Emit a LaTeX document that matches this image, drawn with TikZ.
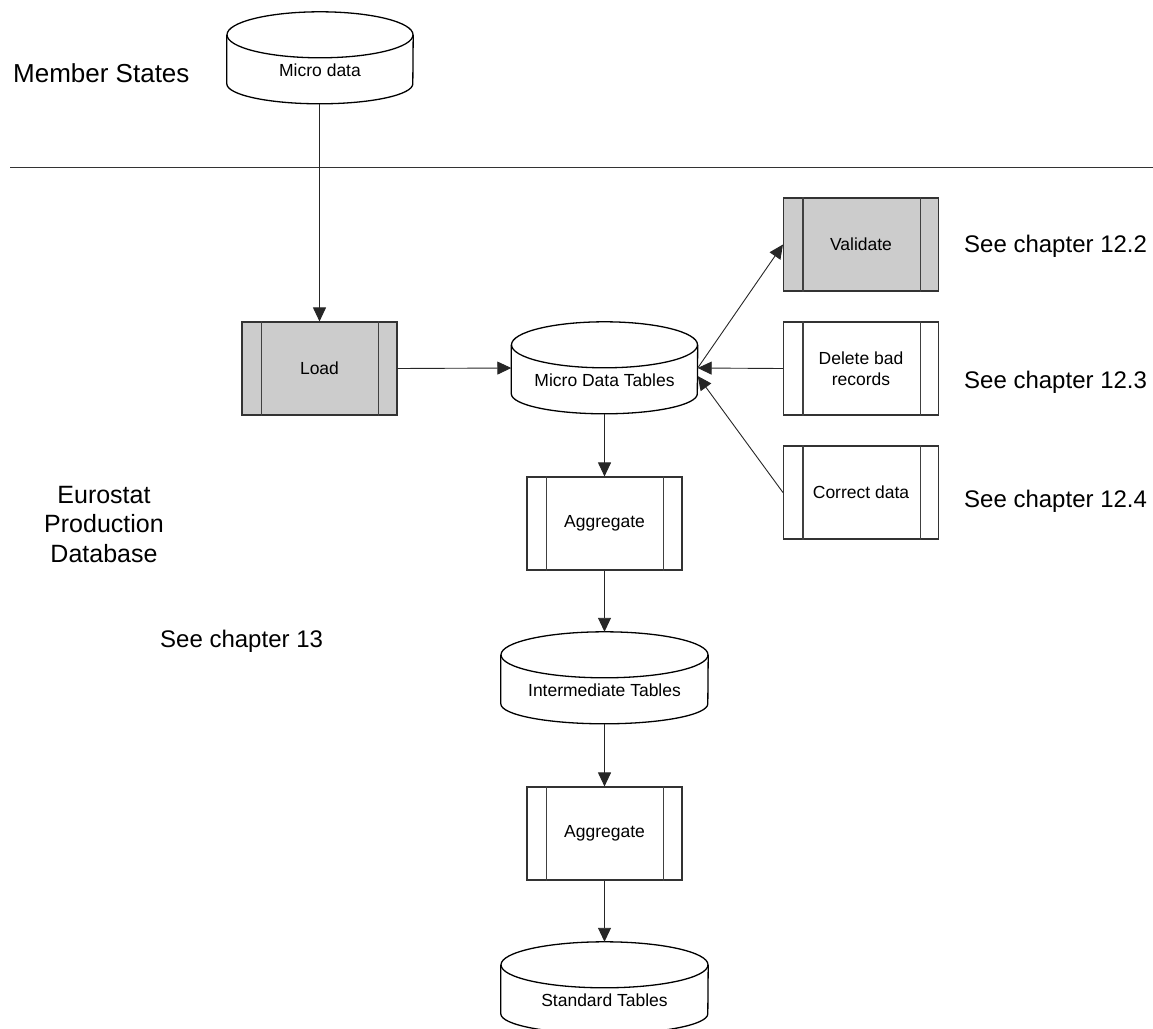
\documentclass[tikz,border=0pt]{standalone}
\usepackage{fontspec}
\setmainfont{Liberation Sans}
\usetikzlibrary{arrows.meta,calc}
\tikzset{
  cylnode/.style={draw=none, inner xsep=0pt, inner ysep=0pt, text height=64pt, text depth=28pt, font=\fontsize{17.5}{20}\selectfont},
  cylline/.style={draw=black, line width=1.3pt},
  procbox/.style={draw=black!80, line width=1.1pt, minimum width=155pt, minimum height=93pt, inner sep=0pt, align=center, font=\fontsize{17.5}{21}\selectfont},
  grayfill/.style={fill=black!20},
  sideline/.style={draw=black!75, line width=1.1pt},
  conn/.style={draw=black!85, line width=0.9pt, -{Triangle[length=14pt,width=13pt]}},
  bigtext/.style={font=\fontsize{25}{29.5}\selectfont, inner sep=0pt},
  chaptext/.style={font=\fontsize{24}{28}\selectfont, inner sep=0pt, anchor=base west},
  divider/.style={draw=black!80, line width=1pt},
}
\newcommand\drawcyl[2]{%
  \draw[cylline] ([yshift=-23pt]#1.north west) -- ([yshift=-72pt]#1.north west)
    arc[start angle=180, end angle=360, x radius=#2pt, y radius=20pt] -- ([yshift=-23pt]#1.north east);
  \draw[cylline] ([yshift=-23pt]#1.north) ellipse[x radius=#2pt, y radius=23pt];
}
\newcommand\procsides[1]{%
  \draw[sideline] ([xshift=20pt]#1.north west) -- ([xshift=20pt]#1.south west)
    ([xshift=-19pt]#1.north east) -- ([xshift=-19pt]#1.south east);
}
\begin{document}
\begin{tikzpicture}[x=1pt, y=-1pt]
\useasboundingbox (0,0) rectangle (1153,1028);

% divider
\coordinate (dl) at (10,167);
\coordinate (dr) at (1153,167);
\draw[divider] (dl) -- (dr);

% cylinders
\node[cylnode, minimum width=186pt] (md) at (320,58) {Micro data};
\drawcyl{md}{93}
\node[cylnode, minimum width=186pt] (mdt) at (604.5,368) {Micro Data Tables};
\drawcyl{mdt}{93}
\node[cylnode, minimum width=207pt] (int) at (604.5,678) {Intermediate Tables};
\drawcyl{int}{103.5}
\node[cylnode, minimum width=207pt] (std) at (604.5,988) {Standard Tables};
\drawcyl{std}{103.5}

% process boxes
\node[procbox, grayfill] (load) at (319.5,368.5) {Load};
\procsides{load}
\node[procbox, grayfill] (val) at (861,244.5) {Validate};
\procsides{val}
\node[procbox] (del) at (861,368.5) {Delete bad\\records};
\procsides{del}
\node[procbox] (cor) at (861,492.5) {Correct data};
\procsides{cor}
\node[procbox] (agg1) at (604.5,523.5) {Aggregate};
\procsides{agg1}
\node[procbox] (agg2) at (604.5,833.5) {Aggregate};
\procsides{agg2}

% connectors
\draw[conn] (load.north |- md.south) -- (load.north);
\draw[conn] (load.east) -- (mdt.west);
\draw[conn] (mdt.east) -- (val.west);
\draw[conn] (del.west) -- (mdt.east);
\draw[conn] (cor.west) -- ([yshift=-8pt]mdt.east);
\draw[conn] (mdt.south) -- (agg1.north);
\draw[conn] (agg1.south) -- (int.north);
\draw[conn] (int.south) -- (agg2.north);
\draw[conn] (agg2.south) -- (std.north);

% texts
\node[bigtext, font=\fontsize{26}{30}\selectfont, anchor=base west] (ms) at (13,82) {Member States};
\node[bigtext, align=center] (eps) at (104,524.5) {Eurostat\\Production\\Database};
\node[chaptext] (c13) at (160,647) {See chapter 13};
\node[chaptext] (c122) at (964,252) {See chapter 12.2};
\node[chaptext] (c123) at (964,388) {See chapter 12.3};
\node[chaptext] (c124) at (964,507) {See chapter 12.4};
\end{tikzpicture}
\end{document}
